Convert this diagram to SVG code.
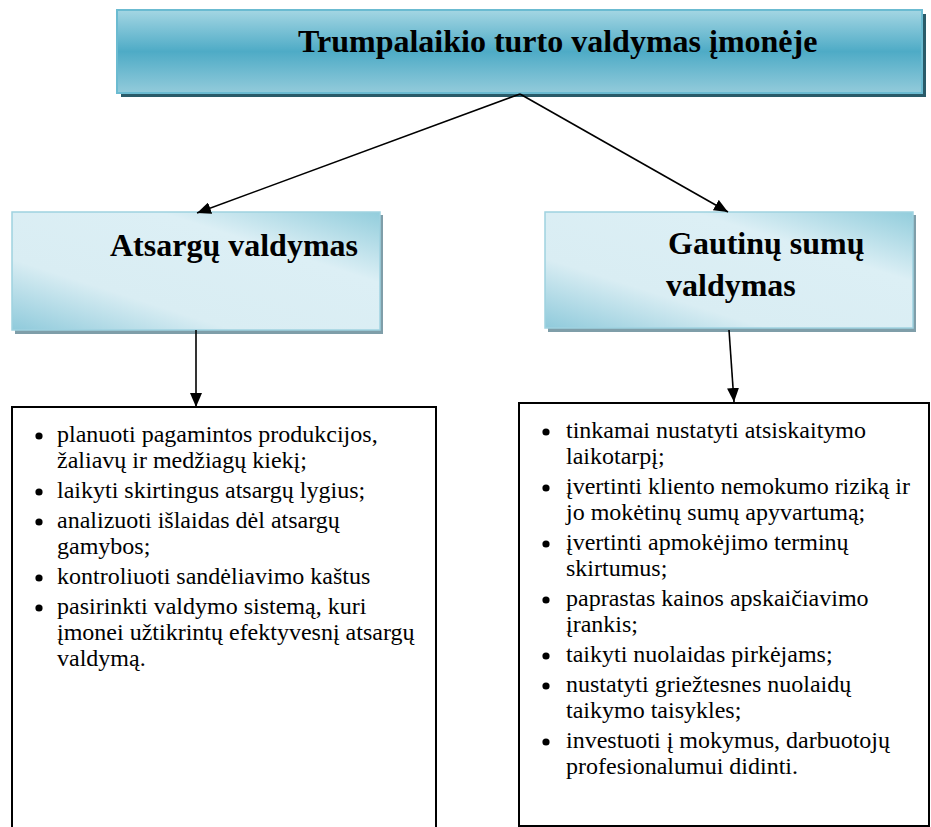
<svg xmlns="http://www.w3.org/2000/svg" width="931" height="827" viewBox="0 0 931 827">
<style>
.title{font-family:"Liberation Serif","Times New Roman",serif;font-weight:bold;font-size:32px;fill:#000}
.item{font-family:"Liberation Serif","Tinos","DejaVu Serif",serif;font-weight:normal;font-size:24px;fill:#000}
.conn{stroke:#000;stroke-width:1.6;fill:none}
.list{fill:#fff;stroke:#000;stroke-width:2}
</style>
<defs>
<linearGradient id="gTop" x1="0" y1="0" x2="0" y2="1">
<stop offset="0" stop-color="#a4d6e3"/>
<stop offset="0.5" stop-color="#4eabc6"/>
<stop offset="1" stop-color="#93cbdb"/>
</linearGradient>
<linearGradient id="gMid2" x1="0" y1="1" x2="1" y2="0">
<stop offset="0" stop-color="#8fcadb"/>
<stop offset="0.3" stop-color="#d9edf3"/>
<stop offset="0.7" stop-color="#dceff5"/>
<stop offset="1" stop-color="#92cddc"/>
</linearGradient>
<marker id="arr" viewBox="0 0 14 12" refX="14" refY="6" markerWidth="14" markerHeight="12" markerUnits="userSpaceOnUse" orient="auto">
<path d="M0,0 L14,6 L0,12 Z" fill="#000"/>
</marker>
</defs>

<g id="node-top">
<rect x="121" y="14" width="805" height="83" fill="#2a5b69"/>
<rect x="117" y="10" width="805" height="83" fill="url(#gTop)" stroke="#6bbbd1" stroke-width="2"/>
<text class="title" x="298" y="52">Trumpalaikio turto valdymas įmonėje</text>
</g>

<g id="node-atsargu">
<rect x="15" y="215" width="368" height="119" fill="#7f9ea9"/>
<rect x="12" y="212" width="368" height="118" fill="url(#gMid2)" stroke="#9fd2e0" stroke-width="1.5"/>
<text class="title" x="110" y="256">Atsargų valdymas</text>
</g>

<g id="node-gautinu">
<rect x="548" y="215" width="368" height="117" fill="#7f9ea9"/>
<rect x="545" y="212" width="368" height="116" fill="url(#gMid2)" stroke="#9fd2e0" stroke-width="1.5"/>
<text class="title" x="668" y="254">Gautinų sumų</text>
<text class="title" x="666" y="296">valdymas</text>
</g>

<g id="node-list-left">
<path class="list" d="M12,830 L12,407 L436,407 L436,830"/>
<g fill="#000">
<circle cx="39" cy="436" r="3.6"/>
<circle cx="39" cy="492" r="3.6"/>
<circle cx="39" cy="522" r="3.6"/>
<circle cx="39" cy="578" r="3.6"/>
<circle cx="39" cy="608" r="3.6"/>
</g>
<text class="item" x="57" y="442">planuoti pagamintos produkcijos,</text>
<text class="item" x="57" y="468">žaliavų ir medžiagų kiekį;</text>
<text class="item" x="57" y="498">laikyti skirtingus atsargų lygius;</text>
<text class="item" x="57" y="528">analizuoti išlaidas dėl atsargų</text>
<text class="item" x="57" y="554">gamybos;</text>
<text class="item" x="57" y="584">kontroliuoti sandėliavimo kaštus</text>
<text class="item" x="57" y="614">pasirinkti valdymo sistemą, kuri</text>
<text class="item" x="57" y="640">įmonei užtikrintų efektyvesnį atsargų</text>
<text class="item" x="57" y="666">valdymą.</text>
</g>

<g id="node-list-right">
<rect class="list" x="519" y="403" width="410" height="423"/>
<g fill="#000">
<circle cx="546" cy="432" r="3.6"/>
<circle cx="546" cy="488" r="3.6"/>
<circle cx="546" cy="544" r="3.6"/>
<circle cx="546" cy="600" r="3.6"/>
<circle cx="546" cy="656" r="3.6"/>
<circle cx="546" cy="686" r="3.6"/>
<circle cx="546" cy="742" r="3.6"/>
</g>
<text class="item" x="566" y="438">tinkamai nustatyti atsiskaitymo</text>
<text class="item" x="566" y="464">laikotarpį;</text>
<text class="item" x="566" y="494">įvertinti kliento nemokumo riziką ir</text>
<text class="item" x="566" y="520">jo mokėtinų sumų apyvartumą;</text>
<text class="item" x="566" y="550">įvertinti apmokėjimo terminų</text>
<text class="item" x="566" y="576">skirtumus;</text>
<text class="item" x="566" y="606">paprastas kainos apskaičiavimo</text>
<text class="item" x="566" y="632">įrankis;</text>
<text class="item" x="566" y="662">taikyti nuolaidas pirkėjams;</text>
<text class="item" x="566" y="692">nustatyti griežtesnes nuolaidų</text>
<text class="item" x="566" y="718">taikymo taisykles;</text>
<text class="item" x="566" y="748">investuoti į mokymus, darbuotojų</text>
<text class="item" x="566" y="774">profesionalumui didinti.</text>
</g>

<g id="connectors">
<line class="conn" x1="520" y1="94" x2="197" y2="213" marker-end="url(#arr)"/>
<line class="conn" x1="520" y1="94" x2="728" y2="212" marker-end="url(#arr)"/>
<line class="conn" x1="196" y1="330" x2="196" y2="407" marker-end="url(#arr)"/>
<line class="conn" x1="729" y1="330" x2="734" y2="402" marker-end="url(#arr)"/>
</g>
</svg>
